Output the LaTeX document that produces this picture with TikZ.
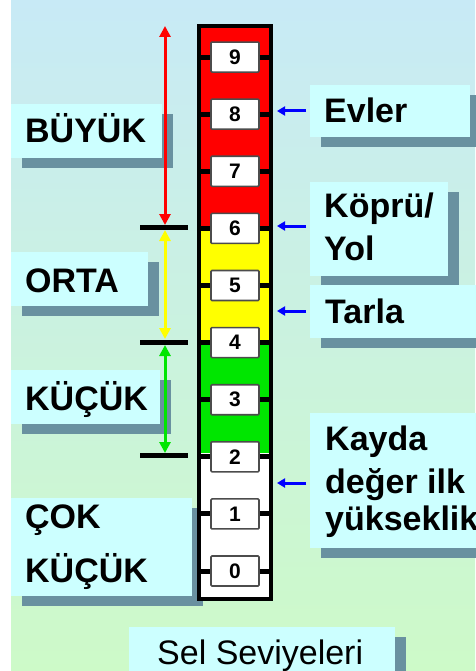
\documentclass[tikz,border=0pt]{standalone}
\usepackage{fontspec}
\setmainfont{Liberation Sans}
\usetikzlibrary{arrows.meta,shadows}
\definecolor{bgtop}{RGB}{200,234,246}
\definecolor{bgbot}{RGB}{205,250,200}
\definecolor{lblfill}{RGB}{204,255,255}
\definecolor{shadowc}{RGB}{105,145,160}
\definecolor{lvred}{RGB}{255,0,0}
\definecolor{lvyellow}{RGB}{255,255,0}
\definecolor{lvgreen}{RGB}{0,230,0}
\definecolor{arrblue}{RGB}{0,0,255}
\begin{document}
\begin{tikzpicture}[x=1pt,y=-1pt,
  lblbox/.style={rectangle, fill=lblfill, anchor=north west, inner sep=0pt,
    drop shadow={shadow xshift=11pt, shadow yshift=-10pt, fill=shadowc, opacity=1}},
  lbltext/.style={anchor=base west, inner sep=0pt, font=\bfseries\fontsize{34}{34}\selectfont},
  numbox/.style={rectangle, rounded corners=1pt, draw=black!70, line width=1.6pt, fill=white,
    minimum width=48pt, minimum height=30pt, inner sep=0pt,
    font=\bfseries\fontsize{21}{21}\selectfont},
  tick/.style={line width=5pt, black},
  levelarr/.style={line width=3pt, {Triangle[length=11pt,width=11pt]}-{Triangle[length=11pt,width=11pt]}},
  bluearr/.style={line width=3pt, arrblue, -{Triangle[length=8pt,width=9pt]}}
]
\useasboundingbox (0,0) rectangle (475,671);
\fill[white] (0,0) rectangle (475,671);
\shade[top color=bgtop, bottom color=bgbot] (11,0) rectangle (475,671);

% label boxes
\node[lblbox, minimum width=151pt, minimum height=54pt] (buyukbox) at (11,104) {};
\node[lblbox, minimum width=137pt, minimum height=54pt] (ortabox) at (11,252) {};
\node[lblbox, minimum width=149pt, minimum height=54pt] (kucukbox) at (11,370) {};
\node[lblbox, minimum width=181pt, minimum height=98pt] (cokbox) at (11,498) {};
\node[lblbox, minimum width=160pt, minimum height=52pt] (evlerbox) at (310,85) {};
\node[lblbox, minimum width=138pt, minimum height=94pt] (koprubox) at (310,182) {};
\node[lblbox, minimum width=175pt, minimum height=53pt] (tarlabox) at (310,285) {};
\node[lblbox, minimum width=175pt, minimum height=135pt] (kaydabox) at (310,413) {};
\node[lblbox, minimum width=266pt, minimum height=50pt] (selbox) at (129,627) {};

% label texts
\node[lbltext] (buyuk) at (25,143) {BÜYÜK};
\node[lbltext] (orta) at (25,292) {ORTA};
\node[lbltext] (kucuk) at (25,410) {KÜÇÜK};
\node[lbltext] (cok1) at (25,528) {ÇOK};
\node[lbltext] (cok2) at (25,582) {KÜÇÜK};
\node[lbltext] (evler) at (324,123) {Evler};
\node[lbltext] (kopru1) at (324,217) {Köprü/};
\node[lbltext] (kopru2) at (324,260) {Yol};
\node[lbltext] (tarla) at (325,323) {Tarla};
\node[lbltext] (kayda1) at (325,450) {Kayda};
\node[lbltext] (kayda2) at (325,493) {değer ilk};
\node[lbltext] (kayda3) at (325,530) {yükseklik};
\node[anchor=base west, inner sep=0pt, font=\fontsize{34}{34}\selectfont] (sel) at (157,664) {Sel Seviyeleri};

% column
\fill[lvred] (199,26) rectangle (271,229);
\fill[lvyellow] (199,229) rectangle (271,341);
\fill[lvgreen] (199,341) rectangle (271,453);
\fill[white] (199,453) rectangle (271,599);
\draw[line width=4.5pt] (199,26) rectangle (271,599);
\coordinate (colleft) at (199,0);
\coordinate (colright) at (271,0);
\coordinate (colouter) at (273,0);

% number boxes and ticks
\foreach \k in {0,...,9}{
  \node[numbox] (num\k) at (235,{571-57.1*\k}) {\k};
  \draw[tick] (colleft |- num\k) -- (num\k.west);
  \draw[tick] (num\k.east) -- (colright |- num\k);
}

% boundary bars
\coordinate (b6l) at (140,227); \coordinate (b6r) at (188,227);
\coordinate (b4l) at (140,342); \coordinate (b4r) at (188,342);
\coordinate (b2l) at (140,455); \coordinate (b2r) at (188,455);
\draw[tick] (b6l) -- (b6r);
\draw[tick] (b4l) -- (b4r);
\draw[tick] (b2l) -- (b2r);

% level arrows
\coordinate (rtop) at (165,26); \coordinate (rbot) at (165,225);
\coordinate (ytop) at (165,230); \coordinate (ybot) at (165,339);
\coordinate (gtop) at (165,345); \coordinate (gbot) at (165,453);
\draw[levelarr, lvred] (rtop) -- (rbot);
\draw[levelarr, lvyellow] (ytop) -- (ybot);
\draw[levelarr, lvgreen] (gtop) -- (gbot);

% blue pointers
\coordinate (pe) at (306,111);
\coordinate (pk) at (306,226);
\coordinate (pt) at (306,311);
\coordinate (pkd) at (306,483);
\draw[bluearr] (pe) -- ([xshift=4pt]colouter |- pe);
\draw[bluearr] (pk) -- ([xshift=4pt]colouter |- pk);
\draw[bluearr] (pt) -- ([xshift=4pt]colouter |- pt);
\draw[bluearr] (pkd) -- ([xshift=4pt]colouter |- pkd);
\end{tikzpicture}
\end{document}
